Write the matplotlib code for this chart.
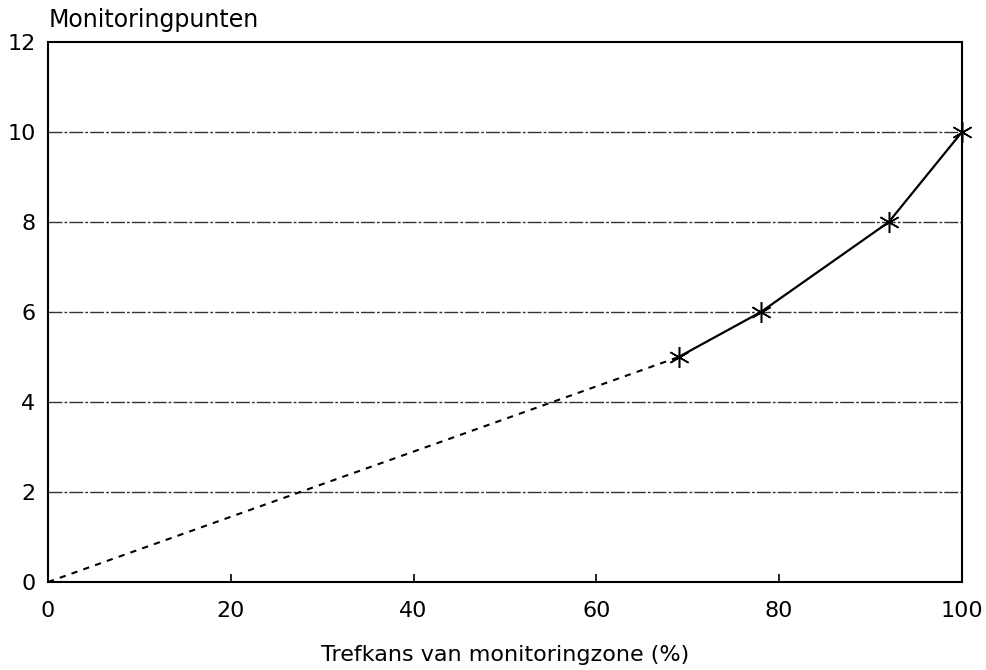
import matplotlib
matplotlib.use('Agg')
import matplotlib.pyplot as plt

# data
dashed_x = [0, 69]
dashed_y = [0, 5]
solid_x = [69, 78, 92, 100]
solid_y = [5, 6, 8, 10]
x_ticks = [0, 20, 40, 60, 80, 100]
y_ticks = [0, 2, 4, 6, 8, 10, 12]

plt.rcParams['font.family'] = ['DejaVu Sans']

fig = plt.figure(figsize=(9.87, 6.7), dpi=100)
ax = fig.add_axes([0.0486, 0.1313, 0.926, 0.806])

for y in y_ticks[1:-1]:
	ax.axhline(y, color='#333333', lw=1.0, ls=(0, (10, 1.5, 2, 1.5)), zorder=1)

ax.plot(dashed_x, dashed_y, color='black', lw=1.5, ls=(0, (3, 3)), zorder=2)
ax.plot(solid_x, solid_y, color='black', lw=1.6, marker=(6, 2, 0), ms=15, mew=1.1,
	zorder=3, clip_on=False)

ax.set_xlim(0, 100)
ax.set_ylim(0, 12)
ax.set_xticks(x_ticks)
ax.set_yticks(y_ticks)
ax.tick_params(axis='x', direction='in', length=6, width=1.2, pad=14, labelsize=16)
ax.tick_params(axis='y', length=0, pad=9, labelsize=16)
for s in ax.spines.values():
	s.set_linewidth(1.5)

ax.set_xlabel('Trefkans van monitoringzone (%)', fontsize=16, labelpad=17)
fig.text(0.049, 0.970, 'Monitoringpunten', fontsize=17, ha='left', va='center')

fig.savefig('out.png', dpi=100)
